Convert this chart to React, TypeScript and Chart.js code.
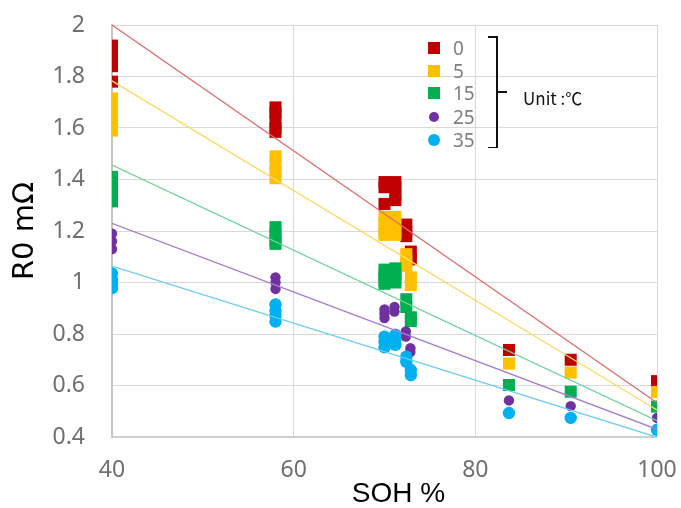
import React, { useEffect, useRef } from "react";
import { Chart, registerables } from "chart.js";

Chart.register(...registerables);

// SOH (%) positions and R0 (mΩ) values for each temperature
const SOH_T0 = [40, 40, 40, 40, 40, 40, 58, 58, 58, 58, 58, 70, 70, 70, 71.2, 71.2, 71.2, 71.2, 72.4, 72.4, 72.4, 72.9, 72.9, 83.7, 90.5, 100];
const R0_T0 = [1.92, 1.9, 1.88, 1.86, 1.84, 1.78, 1.68, 1.66, 1.63, 1.6, 1.585, 1.39, 1.37, 1.305, 1.39, 1.37, 1.34, 1.32, 1.225, 1.2, 1.18, 1.12, 1.09, 0.738, 0.7, 0.617];

const SOH_T5 = [40, 40, 40, 40, 40, 40, 58, 58, 58, 58, 70, 70, 70, 70, 71.2, 71.2, 71.2, 71.2, 72.4, 72.4, 72.4, 72.9, 72.9, 83.7, 90.5, 100];
const R0_T5 = [1.715, 1.69, 1.66, 1.63, 1.6, 1.59, 1.49, 1.46, 1.43, 1.405, 1.255, 1.23, 1.2, 1.185, 1.255, 1.23, 1.2, 1.185, 1.11, 1.085, 1.065, 1.02, 0.99, 0.685, 0.65, 0.575];

const SOH_T15 = [40, 40, 40, 40, 58, 58, 58, 58, 70, 70, 70, 70, 71.2, 71.2, 71.2, 71.2, 72.4, 72.4, 72.9, 72.9, 83.7, 90.5, 100];
const R0_T15 = [1.41, 1.38, 1.35, 1.315, 1.215, 1.19, 1.165, 1.15, 1.05, 1.03, 1.01, 0.995, 1.055, 1.035, 1.015, 1.0, 0.935, 0.905, 0.865, 0.85, 0.602, 0.576, 0.518];

const SOH_T25 = [40, 40, 40, 58, 58, 58, 70, 70, 70, 71.1, 71.1, 72.35, 72.35, 72.85, 72.85, 83.7, 90.5, 100];
const R0_T25 = [1.19, 1.16, 1.13, 1.02, 1.0, 0.975, 0.895, 0.88, 0.862, 0.905, 0.887, 0.81, 0.79, 0.745, 0.73, 0.542, 0.52, 0.474];

const SOH_T35 = [40, 40, 40, 40, 58, 58, 58, 58, 70, 70, 70, 71.2, 71.2, 71.2, 72.4, 72.4, 72.9, 72.9, 83.7, 90.5, 100];
const R0_T35 = [1.035, 1.01, 0.995, 0.978, 0.915, 0.89, 0.87, 0.848, 0.79, 0.77, 0.748, 0.797, 0.778, 0.758, 0.712, 0.692, 0.66, 0.64, 0.493, 0.474, 0.428];

// Linear trend lines (endpoints)
const TREND_SOH = [40, 100];
const TREND_T0 = [2.0, 0.533];
const TREND_T5 = [1.783, 0.505];
const TREND_T15 = [1.456, 0.463];
const TREND_T25 = [1.23, 0.43];
const TREND_T35 = [1.064, 0.399];

const LEGEND_LABELS = ["0", "5", "15", "25", "35"];
const X_TITLE = "SOH %";
const Y_TITLE = "R0 mΩ";
const UNIT_TEXT = "Unit :℃";

const COLORS = ["#C00000", "#FFC000", "#00B050", "#7030A0", "#00B0F0"];
const LINE_COLORS = ["#e06b6b", "#ffd966", "#6fd39a", "#a77fcc", "#6ccdf2"];
const SHAPES = ["rect", "rect", "rect", "circle", "circle"];
const RADII = [8.5, 8.5, 8.5, 5.2, 6.2];

const toPts = (xs: number[], ys: number[]) => xs.map((x, i) => ({ x, y: ys[i] }));

// draws the x-axis title slightly right of centre, as in the original
const xTitlePlugin = {
  id: "xTitle",
  afterDraw(chart: any) {
    const { ctx, chartArea } = chart;
    ctx.save();
    ctx.font = "28px 'Liberation Sans', sans-serif";
    ctx.fillStyle = "#000";
    ctx.textAlign = "center";
    ctx.textBaseline = "middle";
    ctx.fillText(X_TITLE, (chartArea.left + chartArea.right) / 2 + 14, chartArea.bottom + 57);
    ctx.restore();
  },
};

export default function App() {
  const ref = useRef<HTMLCanvasElement | null>(null);

  useEffect(() => {
    document.body.style.margin = "0";
    const series = [
      [SOH_T0, R0_T0],
      [SOH_T5, R0_T5],
      [SOH_T15, R0_T15],
      [SOH_T25, R0_T25],
      [SOH_T35, R0_T35],
    ];
    const trends = [TREND_T0, TREND_T5, TREND_T15, TREND_T25, TREND_T35];

    const datasets: any[] = [];
    series.forEach(([xs, ys], i) => {
      datasets.push({
        type: "scatter",
        label: LEGEND_LABELS[i],
        data: toPts(xs, ys),
        pointStyle: SHAPES[i],
        pointRadius: RADII[i],
        pointBackgroundColor: COLORS[i],
        pointBorderColor: COLORS[i],
        pointBorderWidth: 0,
        showLine: false,
        order: 10 - i,
      });
    });
    trends.forEach((t, i) => {
      datasets.push({
        type: "line",
        label: "trend " + LEGEND_LABELS[i],
        data: toPts(TREND_SOH, t),
        borderColor: LINE_COLORS[i],
        borderWidth: 1.3,
        pointRadius: 0,
        fill: false,
        order: 0,
      });
    });

    const chart = new Chart(ref.current as HTMLCanvasElement, {
      type: "scatter",
      data: { datasets },
      plugins: [xTitlePlugin],
      options: {
        animation: false,
        responsive: false,
        layout: { padding: { left: 0, right: 24, top: 25, bottom: 0 } },
        plugins: { legend: { display: false }, tooltip: { enabled: false } },
        scales: {
          x: {
            type: "linear",
            min: 40,
            max: 100,
            ticks: {
              stepSize: 20,
              padding: 20,
              color: "#6f6f6f",
              font: { family: "'Noto Sans', sans-serif", size: 23 },
            },
            grid: { color: "#d9d9d9", lineWidth: 1, drawTicks: false },
            border: { color: "#d0d0d0", width: 2 },
            title: { display: false },
            afterFit: (s: any) => {
              s.height = 71;
              s.paddingLeft = 0;
              s.paddingRight = 0;
            },
          },
          y: {
            type: "linear",
            min: 0.4,
            max: 2,
            ticks: {
              stepSize: 0.2,
              padding: 27,
              color: "#6f6f6f",
              font: { family: "'Noto Sans', sans-serif", size: 23 },
              callback: (v: any) => String(Number(Number(v).toFixed(1))),
            },
            grid: { color: "#d9d9d9", lineWidth: 1, drawTicks: false },
            border: { color: "#c4c4c4", width: 2 },
            title: {
              display: true,
              text: Y_TITLE,
              color: "#000",
              font: { family: "'DejaVu Sans', sans-serif", size: 29, lineHeight: 1 },
              padding: { top: 11, bottom: 0 },
            },
            afterFit: (s: any) => {
              s.width = 112;
              s.paddingTop = 0;
              s.paddingBottom = 0;
            },
          },
        },
      } as any,
    });
    return () => chart.destroy();
  }, []);

  const legendY = [48, 71, 93, 117, 140];
  const marker = (i: number) => {
    const isCircle = SHAPES[i] === "circle";
    const size = isCircle ? RADII[i] * 2 : 12;
    return (
      <div
        style={{
          position: "absolute",
          left: 434 - size / 2,
          top: legendY[i] - size / 2,
          width: size,
          height: size,
          background: COLORS[i],
          borderRadius: isCircle ? "50%" : 0,
        }}
      />
    );
  };

  return (
    <div style={{ position: "relative", width: 681, height: 508 }}>
      <canvas ref={ref} width={681} height={508} style={{ width: 681, height: 508, display: "block" }} />
      {LEGEND_LABELS.map((lab, i) => (
        <React.Fragment key={lab}>
          {marker(i)}
          <div
            style={{
              position: "absolute",
              left: 453,
              top: legendY[i] - 12,
              height: 24,
              lineHeight: "24px",
              fontFamily: "'Noto Sans', sans-serif",
              fontSize: 19,
              color: "#7f7f7f",
            }}
          >
            {lab}
          </div>
        </React.Fragment>
      ))}
      {/* bracket */}
      <div style={{ position: "absolute", left: 496, top: 36, width: 1.5, height: 112, background: "#111" }} />
      <div style={{ position: "absolute", left: 488, top: 36, width: 9, height: 1.5, background: "#111" }} />
      <div style={{ position: "absolute", left: 488, top: 146.5, width: 9, height: 1.5, background: "#111" }} />
      <div style={{ position: "absolute", left: 497, top: 91, width: 10, height: 1.5, background: "#111" }} />
      <div
        style={{
          position: "absolute",
          left: 523,
          top: 86,
          height: 24,
          lineHeight: "24px",
          fontFamily: "'Noto Sans CJK JP', 'Noto Sans', sans-serif",
          fontSize: 17,
          color: "#111",
          whiteSpace: "nowrap",
        }}
      >
        {UNIT_TEXT}
      </div>
    </div>
  );
}
